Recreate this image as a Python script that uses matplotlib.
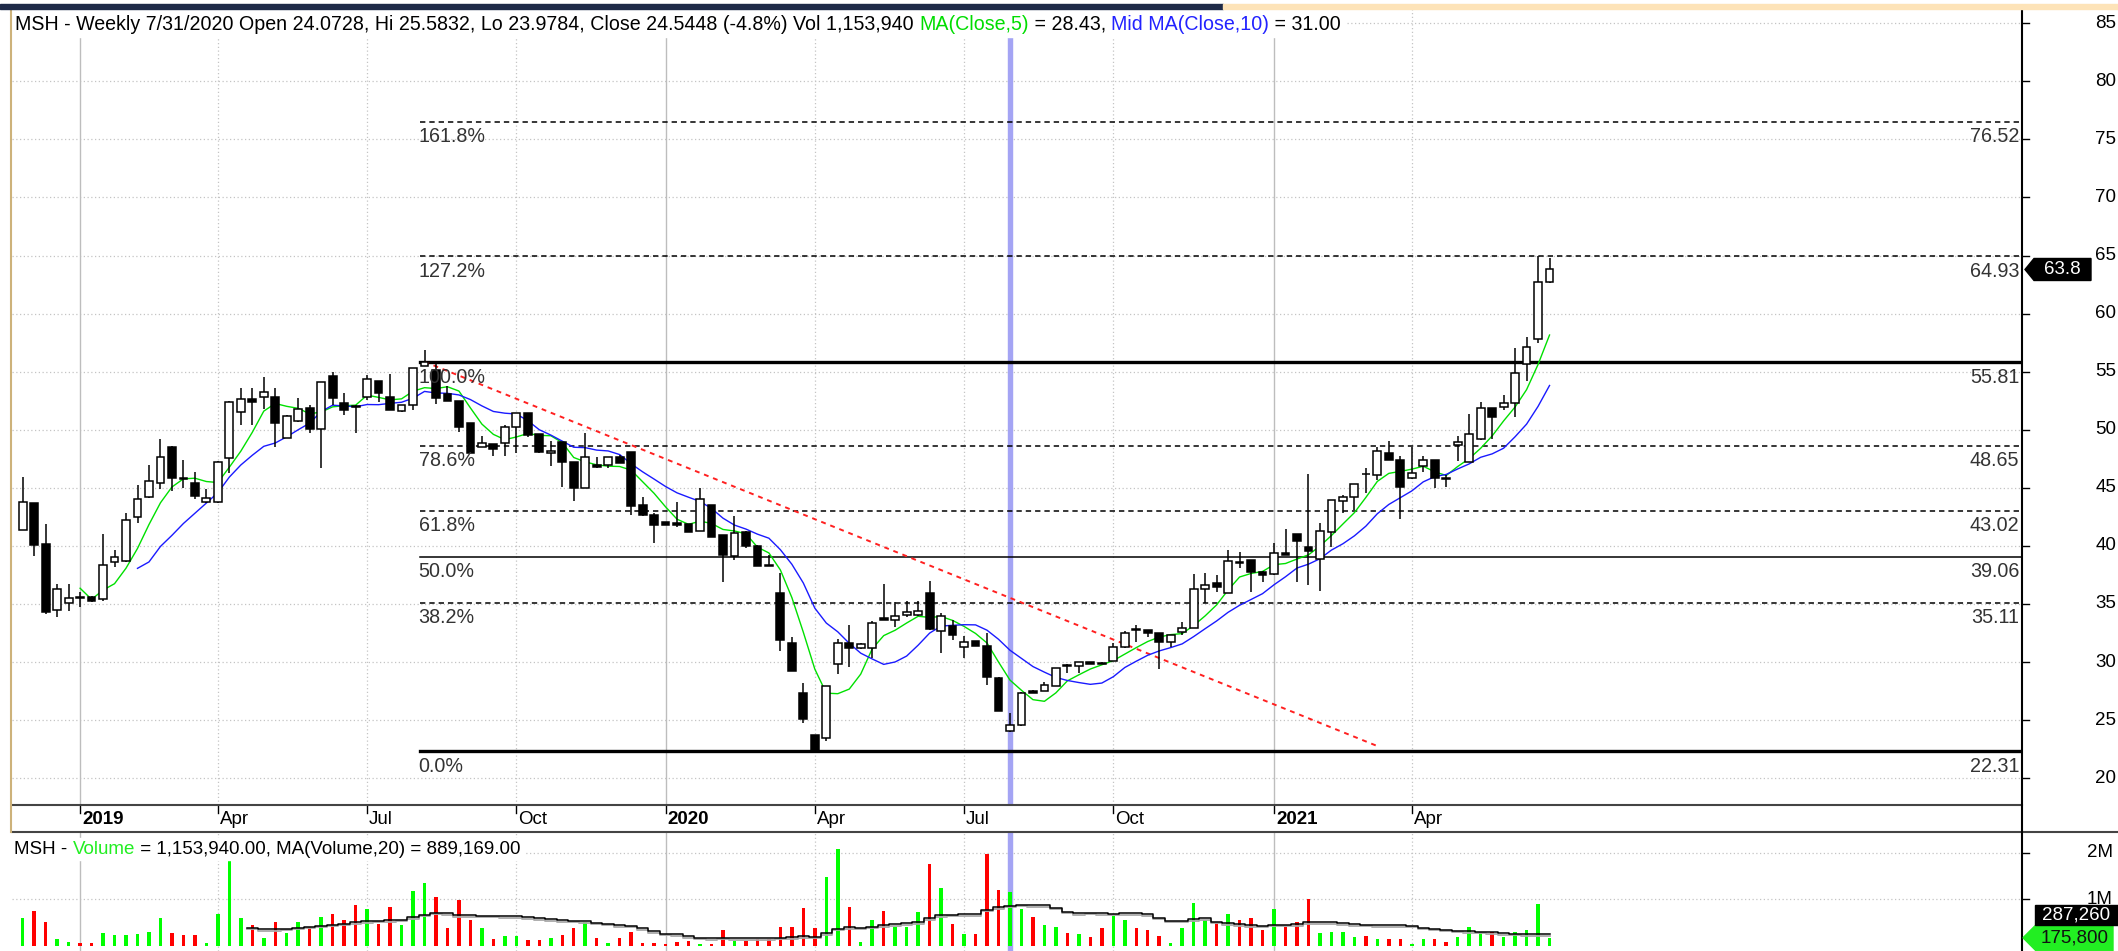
import numpy as np
import pandas as pd
import matplotlib
matplotlib.use('Agg')
import matplotlib.pyplot as plt
from matplotlib.patches import Polygon, Rectangle
from matplotlib.lines import Line2D
from matplotlib.transforms import ScaledTranslation, IdentityTransform

plt.rcParams['font.family'] = ['Liberation Sans', 'DejaVu Sans']

# weekly bars (Fridays)
dates = pd.date_range('2018-12-07', periods=134, freq='W-FRI')

opens = [41.37, 43.67, 40.17, 34.49, 35.12, 35.60, 35.63, 35.40, 38.65, 38.73,
         42.52, 44.18, 45.45, 48.55, 45.85, 45.45, 43.75, 43.75, 47.54, 51.56,
         52.65, 52.85, 52.85, 49.32, 50.76, 51.85, 50.04, 54.66, 52.28, 52.05,
         52.85, 54.20, 52.85, 51.65, 52.13, 55.52, 55.15, 53.08, 52.48, 50.55,
         48.55, 48.78, 48.83, 50.21, 51.41, 49.64, 47.97, 48.92, 47.25, 45.00,
         46.97, 46.97, 47.68, 48.11, 43.52, 42.66, 42.09, 42.00, 41.88, 41.28,
         43.52, 40.94, 39.16, 41.23, 40.02, 38.35, 35.92, 31.67, 27.37, 23.72,
         23.43, 29.83, 31.67, 31.18, 31.24, 33.82, 33.62, 34.05, 34.05, 35.97,
         32.70, 33.13, 31.27, 31.81, 31.41, 28.66, 24.0728, 24.58, 27.55, 27.51,
         27.94, 29.75, 29.69, 29.98, 29.95, 30.09, 31.27, 32.82, 32.76, 32.47,
         31.76, 32.62, 32.90, 36.26, 36.78, 35.98, 38.64, 38.79, 37.79, 37.55,
         39.42, 41.00, 39.88, 38.87, 41.23, 43.90, 44.18, 46.20, 46.11, 47.97,
         47.40, 45.82, 46.88, 47.40, 45.85, 48.69, 47.25, 49.18, 51.85, 51.99,
         52.28, 55.63, 57.79, 62.69]
highs = [45.91, 43.67, 41.86, 36.72, 36.72, 36.06, 35.70, 41.03, 39.65, 42.86,
         45.22, 46.97, 49.24, 48.60, 47.40, 46.40, 44.90, 47.30, 52.50, 53.57,
         53.57, 54.52, 53.57, 51.30, 52.71, 52.13, 54.10, 54.95, 53.14, 52.10,
         54.72, 54.20, 54.77, 52.13, 55.30, 56.87, 55.86, 53.77, 52.50, 50.55,
         49.46, 48.80, 50.41, 51.45, 51.45, 49.64, 49.06, 48.92, 47.25, 49.69,
         47.68, 47.65, 47.83, 48.11, 44.24, 42.80, 42.10, 43.81, 41.90, 44.96,
         43.55, 40.95, 42.58, 41.25, 40.05, 39.22, 37.64, 32.19, 28.23, 23.72,
         27.95, 31.96, 33.19, 31.60, 33.56, 36.72, 35.20, 35.29, 35.29, 37.01,
         34.20, 33.62, 32.24, 31.85, 32.47, 28.70, 25.5832, 27.45, 27.60, 28.31,
         29.50, 29.80, 30.00, 30.00, 30.00, 31.61, 32.70, 33.19, 32.80, 32.50,
         32.35, 33.48, 37.55, 37.70, 37.50, 39.65, 39.50, 38.80, 37.80, 40.22,
         41.46, 41.00, 46.19, 41.95, 43.95, 44.38, 45.30, 46.68, 48.55, 49.06,
         47.77, 48.49, 47.74, 47.40, 46.10, 49.46, 51.36, 52.42, 51.90, 53.00,
         57.01, 57.96, 64.93, 64.82]
lows = [41.37, 39.13, 34.14, 33.91, 34.43, 34.72, 35.20, 35.30, 38.16, 38.60,
        41.95, 44.10, 44.87, 44.73, 45.00, 44.04, 43.70, 43.70, 46.25, 50.41,
        50.41, 51.76, 48.55, 49.30, 50.70, 49.75, 46.70, 52.13, 51.27, 49.75,
        52.56, 52.42, 51.70, 51.50, 51.70, 55.50, 52.22, 52.45, 49.84, 47.97,
        48.50, 47.74, 47.74, 47.97, 49.41, 48.00, 46.91, 45.10, 43.90, 45.00,
        46.68, 46.68, 47.10, 42.66, 42.60, 40.22, 41.80, 41.66, 41.20, 41.25,
        40.75, 36.92, 38.79, 39.79, 38.30, 38.25, 30.95, 29.20, 24.78, 22.31,
        23.23, 28.97, 29.55, 31.10, 30.38, 33.60, 33.05, 33.85, 33.97, 32.80,
        30.81, 31.90, 30.38, 31.35, 28.02, 25.80, 23.9784, 24.50, 27.30, 27.50,
        27.90, 29.09, 29.09, 29.80, 29.80, 30.05, 31.25, 31.76, 32.19, 29.37,
        31.33, 32.33, 32.90, 35.11, 36.06, 35.95, 38.07, 36.06, 36.92, 37.50,
        39.20, 36.92, 36.64, 36.15, 39.94, 42.81, 43.09, 44.53, 45.68, 47.40,
        42.29, 45.80, 46.39, 44.96, 45.10, 47.34, 47.20, 49.10, 49.18, 51.70,
        51.13, 54.23, 57.50, 62.65]
closes = [43.75, 40.08, 34.34, 36.27, 35.55, 35.55, 35.29, 38.33, 39.02, 42.23,
          44.04, 45.59, 47.69, 45.82, 45.75, 44.30, 44.16, 47.26, 52.42, 52.65,
          52.42, 53.28, 50.55, 51.19, 51.79, 50.04, 54.08, 52.77, 51.70, 52.00,
          54.34, 53.14, 51.70, 52.13, 55.29, 55.86, 52.77, 52.48, 50.27, 48.03,
          48.89, 48.35, 50.21, 51.42, 49.55, 48.06, 48.20, 47.25, 45.00, 47.68,
          46.77, 47.63, 47.11, 43.44, 42.66, 41.80, 41.80, 41.80, 41.23, 44.04,
          40.80, 39.22, 41.14, 40.02, 38.30, 38.30, 31.90, 29.26, 25.07, 22.45,
          27.94, 31.67, 31.24, 31.53, 33.33, 33.62, 34.00, 34.34, 34.42, 32.85,
          34.00, 32.33, 31.76, 31.38, 28.74, 25.82, 24.5448, 27.37, 27.35, 28.03,
          29.46, 29.70, 29.98, 29.84, 29.84, 31.27, 32.47, 32.80, 32.47, 31.76,
          32.33, 32.90, 36.26, 36.64, 36.49, 38.73, 38.50, 37.79, 37.50, 39.42,
          39.22, 40.42, 39.59, 41.29, 43.95, 44.18, 45.30, 46.15, 48.20, 47.40,
          45.04, 46.25, 47.40, 45.82, 45.80, 48.92, 49.64, 51.85, 51.13, 52.28,
          54.92, 57.10, 62.69, 63.80]
# volume in millions of shares
volumes = [0.59, 0.76, 0.51, 0.14, 0.09, 0.07, 0.07, 0.28, 0.23, 0.23,
           0.25, 0.30, 0.59, 0.28, 0.23, 0.24, 0.06, 0.69, 1.84, 0.59,
           0.44, 0.18, 0.51, 0.28, 0.51, 0.41, 0.62, 0.69, 0.55, 0.87,
           0.80, 0.48, 0.84, 0.44, 1.17, 1.35, 1.04, 0.39, 0.98, 0.56,
           0.39, 0.14, 0.21, 0.21, 0.12, 0.12, 0.18, 0.23, 0.39, 0.51,
           0.18, 0.06, 0.18, 0.30, 0.06, 0.06, 0.05, 0.09, 0.10, 0.05,
           0.05, 0.35, 0.10, 0.10, 0.16, 0.14, 0.41, 0.41, 0.82, 0.39,
           1.48, 2.07, 0.84, 0.09, 0.55, 0.76, 0.41, 0.41, 0.73, 1.76,
           1.25, 0.48, 0.25, 0.25, 1.98, 1.19, 1.15394, 0.80, 0.62, 0.46,
           0.41, 0.28, 0.25, 0.19, 0.39, 0.64, 0.56, 0.39, 0.35, 0.21,
           0.06, 0.39, 0.93, 0.56, 0.49, 0.69, 0.56, 0.60, 0.34, 0.80,
           0.41, 0.51, 1.00, 0.28, 0.30, 0.30, 0.19, 0.21, 0.14, 0.14,
           0.14, 0.04, 0.14, 0.14, 0.09, 0.19, 0.41, 0.30, 0.30, 0.19,
           0.30, 0.35, 0.89, 0.1758]

quarter_idx = [5, 17, 30, 43, 56, 69, 82, 95, 109, 121]
quarter_lbl = ['2019', 'Apr', 'Jul', 'Oct', '2020', 'Apr', 'Jul', 'Oct', '2021', 'Apr']
price_ticks = list(range(20, 90, 5))
vol_ticks = [1, 2]
vol_tick_lbl = ['1M', '2M']

fib_lo, fib_hi = 22.3138, 55.8146
fib_ratios = [0.0, 0.382, 0.5, 0.618, 0.786, 1.0, 1.272, 1.618]
fib_start = 35
trend_idx = [35, 118]
trend_val = [55.86, 22.77]
focus_idx = 86
vol_ma_label = '287,260'

title_parts = [('MSH - Weekly 7/31/2020 Open 24.0728, Hi 25.5832, Lo 23.9784, Close 24.5448 (-4.8%) Vol 1,153,940 ', 'black'),
               ('MA(Close,5)', '#00dd00'), (' = 28.43, ', 'black'),
               ('Mid MA(Close,10)', '#2222ff'), (' = 31.00', 'black')]
vol_title_parts = [('MSH - ', 'black'), ('Volume', '#22ee22'),
                   (' = 1,153,940.00, MA(Volume,20) = 889,169.00', 'black')]

# ---- layout (pixels) ----
W, H = 2118, 951
X0, DX = 22.7, 11.48          # first bar centre, bar spacing
PL, PR = 12, 2022
MAIN_T, MAIN_B, DATE_B = 8, 805, 832
P_REF_Y, P_REF, P_SCALE = 371.7, 55, 11.615
V_ZERO_Y, V_SCALE = 946, 46.7
FS = 13.5
FS_TITLE = 14.1
FS_FIB = 14.2

fig = plt.figure(figsize=(W / 100, H / 100), dpi=100)
fig.patch.set_facecolor('white')


def frame(l, t, r, b):
    return [l / W, 1 - b / H, (r - l) / W, (b - t) / H]


ax = fig.add_axes(frame(PL, MAIN_T, PR, MAIN_B))
axd = fig.add_axes(frame(PL, MAIN_B, PR, DATE_B))
axv = fig.add_axes(frame(PL, DATE_B, PR, H))
for a in (ax, axd, axv):
    a.set_xlim((PL - X0) / DX, (PR - X0) / DX)
    a.set_xticks([])
    a.set_yticks([])
    for s in a.spines.values():
        s.set_visible(False)
ax.set_ylim(P_REF - (MAIN_B - P_REF_Y) / P_SCALE, P_REF + (P_REF_Y - MAIN_T) / P_SCALE)
axd.set_ylim(0, 1)
axv.set_ylim((V_ZERO_Y - H) / V_SCALE, (V_ZERO_Y - DATE_B) / V_SCALE)

x = np.arange(len(closes))
o, hi, lo, c = map(np.array, (opens, highs, lows, closes))
up = c >= o

# grid
dot = dict(color='#c4c4c4', lw=0.9, ls=(0, (1, 2)), zorder=1)
for p in price_ticks:
    ax.axhline(p, **dot)
for v in vol_ticks:
    axv.axhline(v, **dot)
for i, lab in zip(quarter_idx, quarter_lbl):
    kw = dict(color='#bdbdbd', lw=1.0, zorder=1) if lab.isdigit() else dot
    ax.axvline(i, **kw)
    axv.axvline(i, **kw)
    axd.plot([i, i], [1, 1 - 8 / 27], color='black', lw=1.0)
    axd.annotate(lab, (i, 0.45), xytext=(1.5, 0), textcoords='offset points',
                 va='center', ha='left', fontsize=FS,
                 fontweight='bold' if lab.isdigit() else 'normal')

# highlighted bar
for a in (ax, axv):
    a.axvline(focus_idx, color='#a4a4f4', lw=3.9, zorder=1.5)

# fibonacci levels
xr = ax.get_xlim()[1]
for r in fib_ratios:
    lvl = fib_lo + r * (fib_hi - fib_lo)
    if r in (0.0, 1.0):
        kw = dict(lw=2.4, ls='-')
    elif r == 0.5:
        kw = dict(lw=1.1, ls='-')
    else:
        kw = dict(lw=1.1, ls=(0, (3.5, 2.6)))
    ax.plot([fib_start - 0.4, xr], [lvl, lvl], color='black', zorder=2, **kw)
    ax.annotate(f'{r * 100:.1f}%', (fib_start - 0.4, lvl), xytext=(-1, -4),
                textcoords='offset points', ha='left', va='top', fontsize=FS_FIB,
                color='#333333', zorder=6)
    ax.annotate(f'{lvl:.2f}', (1, lvl), xycoords=('axes fraction', 'data'),
                xytext=(-2, -4), textcoords='offset points', ha='right', va='top',
                fontsize=FS_FIB, color='#333333', zorder=6)

# trend line
ax.plot(trend_idx, trend_val, color='#ff2020', lw=1.4, ls=(0, (2.5, 2.5)), zorder=2.5)

# moving averages (the chart draws them from the bar after the first full window)
ma5 = pd.Series(closes).rolling(5).mean().where(x >= 5)
ma10 = pd.Series(closes).rolling(10).mean().where(x >= 10)
ax.plot(x, ma5, color='#00e000', lw=1.0, zorder=3)
ax.plot(x, ma10, color='#1a1aff', lw=1.0, zorder=3)

# candles
ax.vlines(x, lo, hi, color='black', lw=1.1, zorder=4)
ax.bar(x, np.maximum(np.abs(c - o), 0.05), bottom=np.minimum(o, c), width=0.68,
       color=np.where(up, 'white', 'black'), edgecolor='black', linewidth=1.1, zorder=5)

# volume
axv.bar(x, volumes, width=0.3, color=np.where(up, '#00ff00', '#ff0000'), zorder=3)
vma = pd.Series(volumes).rolling(20).mean().where(x >= 20)
shadow = axv.transData + ScaledTranslation(0, -1.6 / 100, fig.dpi_scale_trans)
axv.plot(x, vma, color='#a8a8a8', lw=1.3, drawstyle='steps-mid', zorder=3.5, transform=shadow)
axv.plot(x, vma, color='black', lw=1.1, drawstyle='steps-mid', zorder=4)

# right axis ticks and labels
ytr = ax.get_yaxis_transform()
lab_x = 1 + (2116 - PR) / (PR - PL)
for p in price_ticks:
    ax.plot([1, 1 + 7 / (PR - PL)], [p, p], transform=ytr, color='black', lw=1.0, clip_on=False)
    ax.text(lab_x, p, str(p), transform=ytr, ha='right', va='center', fontsize=FS, clip_on=False)
vtr = axv.get_yaxis_transform()
for v, lab in zip(vol_ticks, vol_tick_lbl):
    axv.plot([1, 1 + 7 / (PR - PL)], [v, v], transform=vtr, color='black', lw=1.0, clip_on=False)
    axv.text(1 + (2113 - PR) / (PR - PL), v, lab, transform=vtr, ha='right', va='center',
             fontsize=FS, clip_on=False, zorder=2)


# frame lines
def hline_px(y, x1, x2, **kw):
    fig.add_artist(Line2D([x1 / W, x2 / W], [1 - y / H, 1 - y / H], **kw))


def vline_px(xp, y1, y2, **kw):
    fig.add_artist(Line2D([xp / W, xp / W], [1 - y1 / H, 1 - y2 / H], **kw))


hline_px(MAIN_B, PL, PR, color='#444444', lw=1.5)
hline_px(DATE_B, PL, W, color='#444444', lw=1.5)
vline_px(PR, MAIN_T, H, color='black', lw=1.5)
vline_px(11, MAIN_T, DATE_B, color='#cdb27a', lw=1.5)

# window strip at top
fig.add_artist(Rectangle((0, 1 - 9 / H), 1223 / W, 5 / H, transform=fig.transFigure,
                         color='#1e2a48', zorder=5))
fig.add_artist(Rectangle((1223 / W, 1 - 9 / H), (W - 1223) / W, 5 / H,
                         transform=fig.transFigure, color='#fde3b8', zorder=5))

# coloured header lines
rend = fig.canvas.get_renderer()


def text_width(s, size):
    t1 = fig.text(0, 0, '|' + s + '|', fontsize=size)
    t2 = fig.text(0, 0, '||', fontsize=size)
    w = t1.get_window_extent(rend).width - t2.get_window_extent(rend).width
    t1.remove()
    t2.remove()
    return w


def header(parts, x_px, y_px, size):
    xp = x_px
    for s, col in parts:
        fig.text(xp / W, 1 - y_px / H, s, color=col, fontsize=size, va='center', ha='left', zorder=6)
        xp += text_width(s, size)
    return xp


end = header(title_parts, 15, 24, FS_TITLE)
fig.add_artist(Rectangle((PL / W, 1 - 37 / H), (end + 4 - PL) / W, 28 / H,
                         transform=fig.transFigure, color='white', zorder=1))
end = header(vol_title_parts, 14, 849, FS)
fig.add_artist(Rectangle((PL / W, 1 - 860 / H), (end + 4 - PL) / W, 22 / H,
                         transform=fig.transFigure, color='white', zorder=1))

# value markers on the right axis
yd = ax.transData.transform((0, closes[-1]))[1]
fig.add_artist(Polygon([(2025, yd), (2034, yd + 11), (2091, yd + 11), (2091, yd - 11), (2034, yd - 11)],
                       closed=True, transform=IdentityTransform(), color='black', zorder=7))
fig.text(2062 / W, yd / H, f'{closes[-1]:.1f}', color='white', fontsize=FS, ha='center',
         va='center', zorder=8)

yv = axv.transData.transform((0, volumes[-1]))[1]
fig.add_artist(Polygon([(2023, yv), (2036, yv + 13), (2113, yv + 13), (2113, yv - 13), (2036, yv - 13)],
                       closed=True, transform=IdentityTransform(), color='#22ee22', zorder=7))
fig.text(2075 / W, yv / H, f'{volumes[-1] * 1e6:,.0f}', color='#111111', fontsize=FS,
         ha='center', va='center', zorder=8)
fig.add_artist(Rectangle((2035, yv + 13), 83, 20, transform=IdentityTransform(),
                         color='black', zorder=7))
fig.text(2076 / W, (yv + 23) / H, vol_ma_label, color='white', fontsize=FS,
         ha='center', va='center', zorder=8)

fig.savefig('out.png', dpi=100)
